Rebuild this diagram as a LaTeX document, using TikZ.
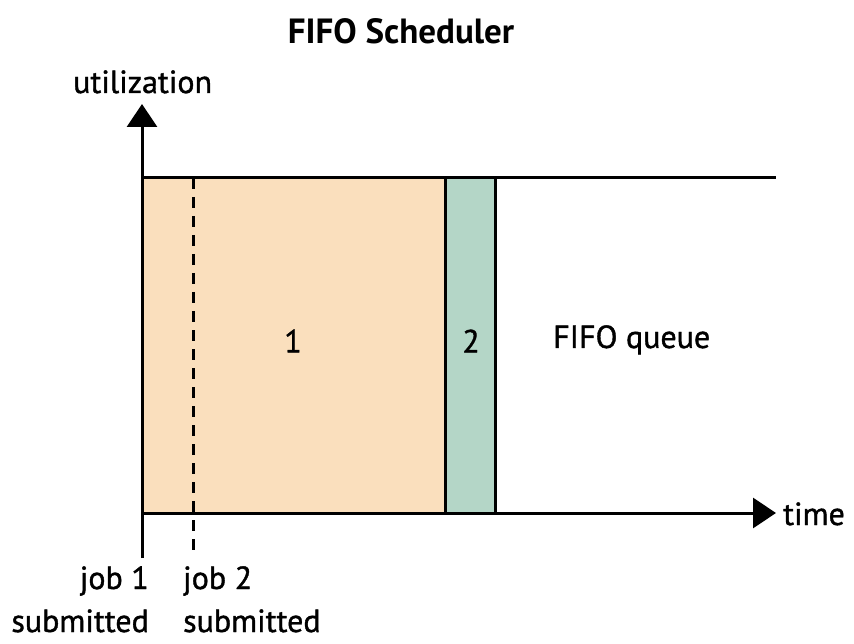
\documentclass[tikz,border=0pt]{standalone}
\usepackage{fontspec}
\setmainfont{PT Sans}
\newfontfamily\heavy[FakeBold=1.2]{PT Sans}
\usetikzlibrary{arrows.meta}
\definecolor{peach}{RGB}{250,223,189}
\definecolor{sage}{RGB}{180,214,199}
\tikzset{
  lbl/.style={font=\heavy\fontsize{32}{39}\selectfont, inner sep=0pt},
  axis/.style={line width=3pt, -{Triangle[width=30pt,length=23pt]}},
  bar/.style={draw=black, line width=3pt},
}
\begin{document}
\begin{tikzpicture}[x=1pt,y=-1pt]
\useasboundingbox (0,0) rectangle (854,644);
\coordinate (O) at (142,513);
\coordinate (ytip) at (142,104);
\coordinate (xtip) at (776,513);
\coordinate (ybot) at (142,558);
\coordinate (tl) at (142,178);
\coordinate (tr) at (776,178);
\coordinate (dtop) at (193,178);
\coordinate (dbot) at (193,556);
% bars
\fill[peach] (142,178) rectangle (445,513);
\filldraw[fill=sage, bar] (445,178) rectangle (495,513);
\draw[line width=3pt] (tl) -- (tr);
\draw[line width=3pt, dash pattern=on 11pt off 8pt] (dtop) -- (dbot);
% axes
\draw[axis] (ybot) -- (ytip);
\draw[axis] (O) -- (xtip);
% labels
\node[inner sep=0pt, font=\fontsize{35}{40}\selectfont\bfseries] (title) at (401,31) {FIFO Scheduler};
\node[lbl, anchor=base west] (ylab) at (73,93) {utilization};
\node[lbl, anchor=base west] (xlab) at (783,525) {time};
\node[lbl] (one) at (293,341) {1};
\node[lbl] (two) at (471,341) {2};
\node[lbl, anchor=base west] (queue) at (553,348) {FIFO queue};
\node[lbl, anchor=base east, align=right] (job1) at (149,632) {job 1\\[4pt]submitted};
\node[lbl, anchor=base west, align=left] (job2) at (183,632) {job 2\\[4pt]submitted};
\end{tikzpicture}
\end{document}
